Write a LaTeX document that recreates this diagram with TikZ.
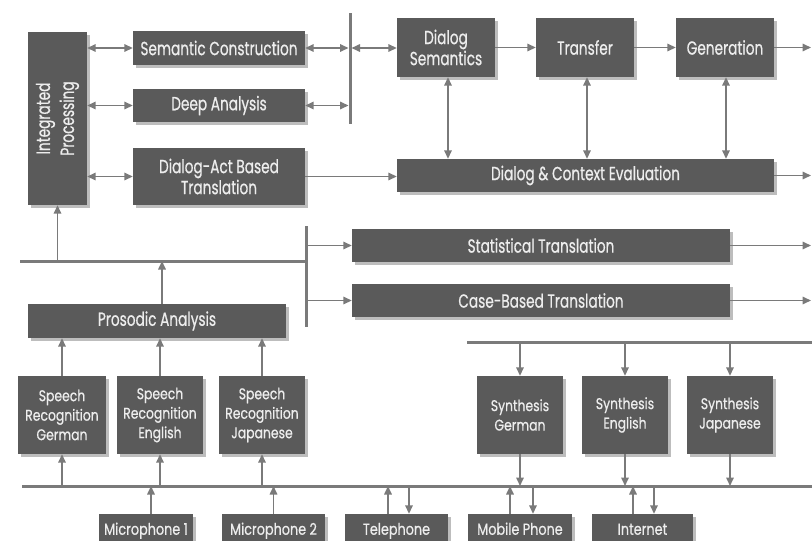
\documentclass[tikz,border=0pt]{standalone}
\usepackage{fontspec}
\setmainfont{Poppins}
\newfontfamily\bigf[FakeStretch=0.72,FakeBold=0.6]{Poppins}
\newfontfamily\smallf[FakeStretch=0.8,FakeBold=0.6]{Poppins}
\usetikzlibrary{arrows.meta,shadows}
\definecolor{boxc}{HTML}{5A5A5A}
\definecolor{linec}{HTML}{7A7A7A}
\definecolor{shadc}{HTML}{BDBDBD}
\definecolor{txtc}{HTML}{EDEDED}
\begin{document}
\begin{tikzpicture}[x=1pt,y=-1pt,
  box/.style={fill=boxc, text=txtc, inner sep=0pt, align=center,
    drop shadow={shadow xshift=2.5pt,shadow yshift=-2.5pt,fill=shadc,opacity=1}},
  bigtxt/.style={font=\bigf\fontsize{19}{21}\selectfont},
  smalltxt/.style={font=\smallf\fontsize{15.5}{19.5}\selectfont},
  devtxt/.style={font=\smallf\fontsize{16}{19}\selectfont, text height=11.5pt, text depth=4pt},
  conn/.style={draw=linec, line width=1.6pt, -{Triangle[length=8.5pt,width=7.5pt]}},
  bconn/.style={draw=linec, line width=1.6pt, {Triangle[length=8.5pt,width=7.5pt]}-{Triangle[length=8.5pt,width=7.5pt]}},
  bus/.style={draw=linec, line width=3pt}]
\useasboundingbox (0,0) rectangle (812,541);
\clip (0,0) rectangle (812,541);
\fill[white] (0,0) rectangle (812,541);

% top left
\node[box, minimum width=59pt, minimum height=173pt] (ip) at (57.5,118.5) {};
\node[font=\bigf\fontsize{19}{24}\selectfont, text=txtc, rotate=90, align=center] (iptxt) at (ip.center) {Integrated\\Processing};
\node[box, bigtxt, minimum width=172pt, minimum height=34pt] (sc) at (219,48) {Semantic Construction};
\node[box, bigtxt, minimum width=172pt, minimum height=33pt] (da) at (219,105.5) {Deep Analysis};
\node[box, bigtxt, minimum width=172pt, minimum height=57pt] (dat) at (219,176.5) {Dialog-Act Based\\Translation};

% top right
\node[box, bigtxt, minimum width=98pt, minimum height=59pt] (ds) at (446,47.5) {Dialog\\Semantics};
\node[box, bigtxt, minimum width=98pt, minimum height=59pt] (tr) at (585,47.5) {Transfer};
\node[box, bigtxt, minimum width=98pt, minimum height=59pt] (gen) at (725,47.5) {Generation};
\node[box, bigtxt, minimum width=377pt, minimum height=33pt] (dce) at (585.5,175.5) {Dialog \& Context Evaluation};

% middle
\node[box, bigtxt, minimum width=378pt, minimum height=33pt] (st) at (541,245.5) {Statistical Translation};
\node[box, bigtxt, minimum width=378pt, minimum height=33pt] (cb) at (541,300.5) {Case-Based Translation};
\node[box, bigtxt, minimum width=258pt, minimum height=34pt] (pa) at (157,321) {Prosodic Analysis};

% recognition / synthesis
\node[box, smalltxt, minimum width=88pt, minimum height=78pt] (srg) at (62,415) {Speech\\Recognition\\German};
\node[box, smalltxt, minimum width=86pt, minimum height=78pt] (sre) at (160,415) {Speech\\Recognition\\English};
\node[box, smalltxt, minimum width=86pt, minimum height=78pt] (srj) at (262,415) {Speech\\Recognition\\Japanese};
\node[box, smalltxt, minimum width=86pt, minimum height=78pt] (syg) at (520,415) {Synthesis\\German};
\node[box, smalltxt, minimum width=86pt, minimum height=78pt] (sye) at (625,415) {Synthesis\\English};
\node[box, smalltxt, minimum width=86pt, minimum height=78pt] (syj) at (730,415) {Synthesis\\Japanese};

% devices
\node[box, devtxt, minimum width=94pt, minimum height=34pt] (mic1) at (146,531) {Microphone 1};
\node[box, devtxt, minimum width=103pt, minimum height=34pt] (mic2) at (273.5,531) {Microphone 2};
\node[box, devtxt, minimum width=103pt, minimum height=34pt] (tel) at (396.5,531) {Telephone};
\node[box, devtxt, minimum width=104pt, minimum height=34pt] (mob) at (520,531) {Mobile Phone};
\node[box, devtxt, minimum width=101pt, minimum height=34pt] (inet) at (642.5,531) {Internet};

% coordinates
\coordinate (barT) at (350,13);
\coordinate (barB) at (350,124);
\coordinate (outA) at (811,47.5);
\coordinate (busAL) at (20,261);
\coordinate (bar2T) at (306,226);
\coordinate (bar2B) at (306,327);
\coordinate (busBL) at (22,486);
\coordinate (busBR) at (812,486);
\coordinate (busSL) at (467,342);
\coordinate (busSR) at (812,342);

% buses
\draw[bus] (barT) -- (barB);
\draw[bus] (busAL) -- (busAL -| bar2T);
\draw[bus] (bar2T) -- (bar2B);
\draw[bus] (busBL) -- (busBR);
\draw[bus] (busSL) -- (busSR);

% top-left arrows
\draw[bconn] (ip.east |- sc.west) -- (sc.west);
\draw[bconn] (ip.east |- da.west) -- (da.west);
\draw[bconn] (ip.east |- dat.west) -- (dat.west);
\draw[bconn] (sc.east) -- ([xshift=-1.5pt]sc.east -| barT);
\draw[bconn] (da.east) -- ([xshift=-1.5pt]da.east -| barT);
\draw[bconn] ([xshift=1.5pt]barT |- sc.east) -- (ds.west |- sc.east);
\draw[conn] (dat.east) -- (dce.west |- dat.east);

% top-right arrows
\draw[conn] (ds) -- (tr);
\draw[conn] (tr) -- (gen);
\draw[conn] (gen.east) -- (outA);
\draw[bconn] ([xshift=2pt]ds.south) -- ([xshift=2pt]ds.south |- dce.north);
\draw[bconn] ([xshift=2pt]tr.south) -- ([xshift=2pt]tr.south |- dce.north);
\draw[bconn] ([xshift=1pt]gen.south) -- ([xshift=1pt]gen.south |- dce.north);
\draw[conn] (dce.east) -- (dce.east -| outA);

% middle arrows
\draw[conn] (ip.south |- busAL) -- (ip.south);
\draw[conn] (bar2T |- st.west) -- (st.west);
\draw[conn] (bar2T |- cb.west) -- (cb.west);
\draw[conn] (st.east) -- (st.east -| outA);
\draw[conn] (cb.east) -- (cb.east -| outA);
\draw[conn] ([xshift=5pt]pa.north) -- ([xshift=5pt]pa.north |- busAL);

% recognition arrows
\draw[conn] (srg.north) -- (srg.north |- pa.south);
\draw[conn] (sre.north) -- (sre.north |- pa.south);
\draw[conn] (srj.north) -- (srj.north |- pa.south);
\draw[conn] (srg.south |- busBL) -- (srg.south);
\draw[conn] (sre.south |- busBL) -- (sre.south);
\draw[conn] (srj.south |- busBL) -- (srj.south);

% synthesis arrows
\draw[conn] (syg.north |- busSL) -- (syg.north);
\draw[conn] (sye.north |- busSL) -- (sye.north);
\draw[conn] (syj.north |- busSL) -- (syj.north);
\draw[conn] (syg.south) -- (syg.south |- busBL);
\draw[conn] (sye.south) -- (sye.south |- busBL);
\draw[conn] (syj.south) -- (syj.south |- busBL);

% device arrows
\draw[conn] ([xshift=5pt]mic1.north) -- ([xshift=5pt]mic1.north |- busBL);
\draw[conn] (mic2.north) -- (mic2.north |- busBL);
\draw[conn] ([xshift=-8.5pt]tel.north) -- ([xshift=-8.5pt]tel.north |- busBL);
\draw[conn] ([xshift=12.5pt]tel.north |- busBL) -- ([xshift=12.5pt]tel.north);
\draw[conn] ([xshift=-10pt]mob.north) -- ([xshift=-10pt]mob.north |- busBL);
\draw[conn] ([xshift=13pt]mob.north |- busBL) -- ([xshift=13pt]mob.north);
\draw[conn] ([xshift=-9.5pt]inet.north) -- ([xshift=-9.5pt]inet.north |- busBL);
\draw[conn] ([xshift=11.5pt]inet.north |- busBL) -- ([xshift=11.5pt]inet.north);
\end{tikzpicture}
\end{document}
